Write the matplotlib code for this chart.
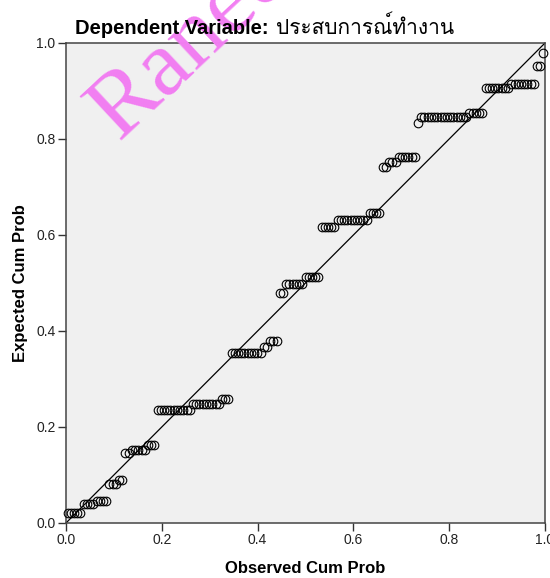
import numpy as np
import matplotlib
matplotlib.use('Agg')
import matplotlib.pyplot as plt
from matplotlib import font_manager
from matplotlib.ft2font import FT2Font

# Expected cum prob levels (horizontal runs of tied residuals) and how many
# cases fall on each level from left to right.
expected_levels = [0.021, 0.040, 0.045, 0.082, 0.090, 0.145, 0.152, 0.163,
                   0.235, 0.247, 0.258, 0.354, 0.367, 0.380, 0.480, 0.498,
                   0.513, 0.617, 0.631, 0.646, 0.742, 0.752, 0.763, 0.833,
                   0.846, 0.855, 0.906, 0.914, 0.952, 0.979]
level_counts = [5, 4, 4, 3, 2, 2, 5, 3,
                11, 9, 3, 10, 2, 3, 2, 6,
                5, 5, 10, 4, 2, 3, 6, 1,
                15, 5, 8, 8, 2, 1]

tick_values = [0.0, 0.2, 0.4, 0.6, 0.8, 1.0]
tick_labels = ['0.0', '0.2', '0.4', '0.6', '0.8', '1.0']

title_bold = 'Dependent Variable:'
title_var = 'ประสบการณ์ทำงาน'
watermark = 'Ranee'


def find_thai_font():
    # look for any installed font that has Thai glyphs
    for f in font_manager.fontManager.ttflist:
        try:
            if 0x0E1B in FT2Font(f.fname).get_charmap():
                return f.name
        except Exception:
            pass
    return 'DejaVu Sans'


thai_font = find_thai_font()
plt.rcParams['font.family'] = ['Liberation Sans', 'DejaVu Sans']

# observed cum prob is the rank position of each sorted case
expected = np.repeat(expected_levels, level_counts)
n = len(expected)
observed = (np.arange(1, n + 1) - 0.5) / n

fig = plt.figure(figsize=(5.5, 5.78), dpi=100)
ax = fig.add_axes([0.12, 0.0952, 0.871, 0.8305])
ax.set_facecolor('#F0F0F0')

ax.plot([0, 1], [0, 1], color='black', lw=0.9, zorder=2)
ax.plot(observed, expected, linestyle='none', marker='o', ms=6.2,
        mfc='none', mec='black', mew=0.8, clip_on=False, zorder=3)

ax.set_xlim(0, 1)
ax.set_ylim(0, 1)
ax.set_xticks(tick_values)
ax.set_xticklabels(tick_labels)
ax.set_yticks(tick_values)
ax.set_yticklabels(tick_labels)
ax.tick_params(direction='out', length=5.5, width=1, color='#333333',
               labelsize=10, pad=2, labelcolor='#222222')
for s in ax.spines.values():
    s.set_color('#444444')
    s.set_linewidth(1.1)

ax.set_xlabel('Observed Cum Prob', fontsize=12, fontweight='bold', labelpad=10)
ax.set_ylabel('Expected Cum Prob', fontsize=12, fontweight='bold', labelpad=6)

# watermark
fig.text(0.135, 0.765, watermark, fontsize=68, family='Liberation Serif',
         color='#F27EF2', rotation=43, ha='left', va='baseline', zorder=1)

t1 = fig.text(75 / 550, 1 - 29 / 578, title_bold, fontsize=14.5,
              fontweight='bold', ha='left', va='center', zorder=10)
ax.annotate(' ' + title_var, xy=(1, 0), xycoords=t1, ha='left', va='bottom',
            fontsize=15, family=[thai_font, 'Liberation Sans', 'DejaVu Sans'],
            annotation_clip=False, zorder=10)

fig.savefig('out.png', dpi=100)
